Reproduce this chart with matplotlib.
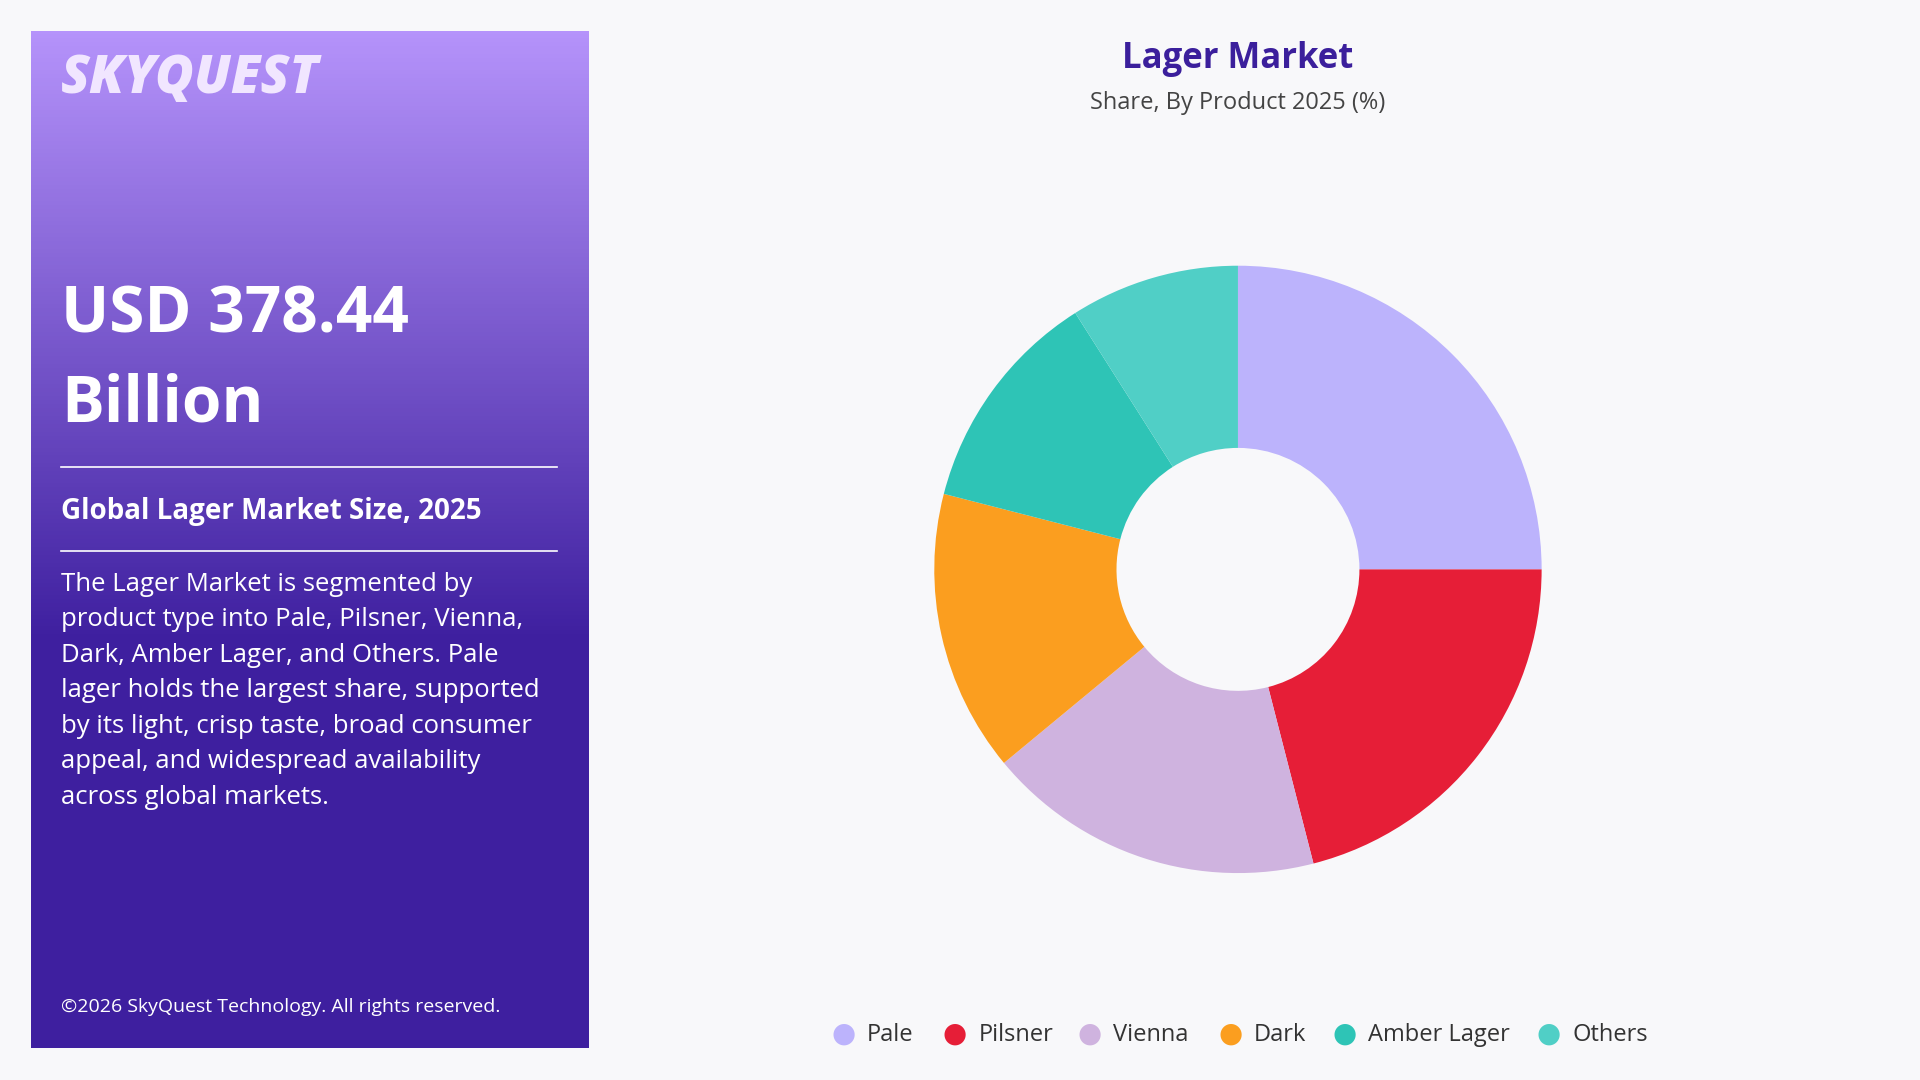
import matplotlib.pyplot as plt
import numpy as np

plt.rcParams['font.family'] = ['Open Sans', 'DejaVu Sans']

# Daten
categories = ["Pale", "Pilsner", "Vienna", "Dark", "Amber Lager", "Others"]
shares = [25, 21, 18, 15, 12, 9]
colors = ["#bcb3fc", "#e61e37", "#cfb3df", "#fb9e1f", "#2ec4b6", "#50cfc6"]

W, H = 1568, 882
fig = plt.figure(figsize=(19.2, 10.8), dpi=100)
fig.patch.set_facecolor("#f8f8fa")

# Linkes Panel mit Verlauf
panel = fig.add_axes([25 / W, 1 - 856 / H, 455 / W, 831 / H])
top = np.array([0xb5, 0x93, 0xfb]) / 255
mid = np.array([0x3e, 0x1f, 0x9f]) / 255
t = np.linspace(0, 1, 256)
f = np.clip(t / 0.6, 0, 1)[:, None]
grad = (top * (1 - f) + mid * f)[:, None, :]
panel.imshow(grad, aspect="auto", extent=[0, 1, 0, 1])
panel.set_xlim(0, 1)
panel.set_ylim(0, 1)
panel.axis("off")

def px(x, y):
    return x / W, 1 - y / H

fig.text(*px(50, 65), "SKYQUEST", color="#f1e6ff", fontsize=38, fontweight="heavy",
         style="italic", va="center")
fig.text(*px(50, 258), "USD 378.44", color="white", fontsize=46, fontweight="bold", va="center")
fig.text(*px(50, 331), "Billion", color="white", fontsize=46, fontweight="bold", va="center")
fig.add_artist(plt.Line2D([50 / W, 455 / W], [1 - 381 / H] * 2, color="white", lw=1.2))
fig.text(*px(50, 418), "Global Lager Market Size, 2025", color="white", fontsize=20,
         fontweight="bold", va="center")
fig.add_artist(plt.Line2D([50 / W, 455 / W], [1 - 450 / H] * 2, color="white", lw=1.2))
desc = ("The Lager Market is segmented by\nproduct type into Pale, Pilsner, Vienna,\n"
        "Dark, Amber Lager, and Others. Pale\nlager holds the largest share, supported\n"
        "by its light, crisp taste, broad consumer\nappeal, and widespread availability\n"
        "across global markets.")
fig.text(*px(50, 467), desc, color="white", fontsize=18.5, va="top", linespacing=1.55)
fig.text(*px(50, 822), "©2026 SkyQuest Technology. All rights reserved.", color="white",
         fontsize=14, va="center")

# Titel
fig.text(*px(1011, 48), "Lager Market", color="#3b1f9c", fontsize=25, fontweight="bold",
         ha="center", va="center")
fig.text(*px(1011, 84), "Share, By Product 2025 (%)", color="#444444", fontsize=17,
         ha="center", va="center")

# Donut
r = 248
ax = fig.add_axes([(1011 - r) / W, 1 - (465 + r) / H, 2 * r / W, 2 * r / H])
ax.pie(shares, colors=colors, startangle=90, counterclock=False,
       wedgeprops=dict(width=0.6, edgecolor="none"))
ax.set_xlim(-1, 1)
ax.set_ylim(-1, 1)
ax.set_aspect("equal")
ax.axis("off")

# Legende
lx = [689, 780, 890, 1005, 1098, 1265]
for x, c, lab in zip(lx, colors, categories):
    fig.text(x / W, 1 - 845 / H, "●", color=c, fontsize=20, ha="center", va="center")
    fig.text((x + 19) / W, 1 - 845 / H, lab, color="#333333", fontsize=17, va="center")

fig.savefig("out.png", dpi=100, facecolor=fig.get_facecolor())
